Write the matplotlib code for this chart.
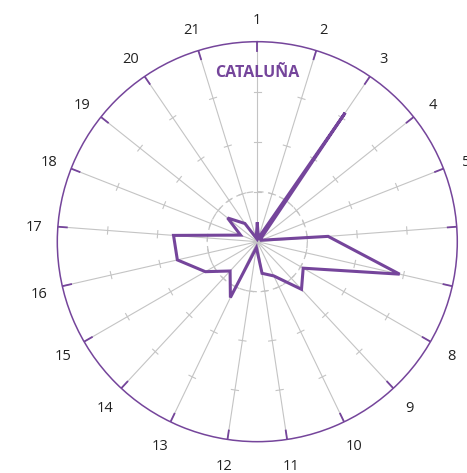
import numpy as np
import matplotlib
matplotlib.use('Agg')
import matplotlib.pyplot as plt
from matplotlib.transforms import offset_copy

# categories around the radar (1..21, clockwise from the top)
labels = [str(i) for i in range(1, 22)]

# values, 0..1 of the outer ring
values = [0.09, 0.02, 0.78, 0.02, 0.02, 0.355, 0.73, 0.265, 0.325, 0.19, 0.16,
          0.03, 0.31, 0.20, 0.30, 0.41, 0.42, 0.09, 0.19, 0.11, 0.02]

grid_levels = [0.25, 0.5, 0.75]
title = 'CATALUÑA'

purple = '#75459b'
grey = '#c4c4c4'

n = len(labels)
theta = np.linspace(0, 2 * np.pi, n, endpoint=False)

fig = plt.figure(figsize=(4.67, 4.73), dpi=100)
ax = fig.add_axes([0.1227, 0.0662, 0.8565, 0.8457], projection='polar')
ax.set_theta_zero_location('N')
ax.set_theta_direction(-1)
ax.set_ylim(0, 1)
ax.grid(False)
ax.set_xticks([])
ax.set_yticks([])
ax.spines['polar'].set_color(purple)
ax.spines['polar'].set_linewidth(1.1)

# spokes with small cross ticks
for t in theta:
    ax.plot([t, t], [0, 1], color=grey, lw=0.8, zorder=1)
    ax.plot([t, t], [0.955, 1], color=purple, lw=1.3, zorder=2)
    for r in grid_levels:
        h = 0.018
        dt = np.arctan(h / r)
        rr = np.hypot(r, h)
        ax.plot([t - dt, t + dt], [rr, rr], color=grey, lw=0.8, zorder=1)

# dashed inner ring
ring = np.linspace(0, 2 * np.pi, 200)
ax.plot(ring, np.full_like(ring, 0.25), color=grey, lw=0.9, ls=(0, (5, 4)), zorder=1)

# data polygon
tt = np.append(theta, theta[0])
vv = np.append(values, values[0])
ax.plot(tt, vv, color=purple, lw=2.2, solid_joinstyle='miter', zorder=3)

# category labels (6 and 7 fall outside the canvas, as in the original)
lab_tr = offset_copy(ax.transData, fig=fig, x=0, y=-3, units='dots')
for t, lab in zip(theta, labels):
    ax.text(t, 1.12, lab, ha='center', va='center', fontsize=10.5,
            family='Open Sans', color='#222222', transform=lab_tr)

ax.text(0, 0.845, title, ha='center', va='center', fontsize=11.5,
        fontweight='bold', family='Open Sans', color=purple)

fig.savefig('out.png', dpi=100)
